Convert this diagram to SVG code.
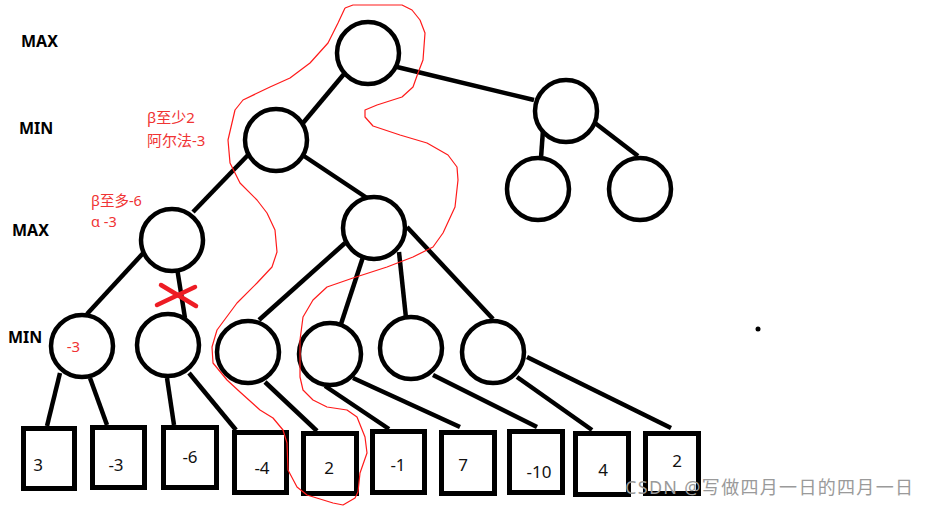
<svg xmlns="http://www.w3.org/2000/svg" width="928" height="508" viewBox="0 0 928 508">
<style>
.e{stroke:#000;stroke-width:4.5;fill:none}
.n{stroke:#000;stroke-width:4.5;fill:#fff}
.b{stroke:#000;stroke-width:5;fill:#fff}
.v{font-family:"Noto Sans","Liberation Sans",sans-serif;font-size:17px;fill:#111;text-anchor:middle}
.lv{font-family:"Noto Sans","Liberation Sans",sans-serif;font-size:16px;font-weight:bold;fill:#000}
.r{font-family:"Noto Sans","Noto Sans CJK SC",sans-serif;font-size:15px;fill:#f03434}
.rs{font-family:"Noto Sans","Noto Sans CJK SC",sans-serif;font-size:14.5px;fill:#f03434}
</style>
<rect width="928" height="508" fill="#fff"/>
<g id="connectors">
<line class="e" x1="344" y1="74" x2="303" y2="123"/>
<line class="e" x1="397" y1="67" x2="534" y2="100"/>
<line class="e" x1="543" y1="130" x2="541" y2="158"/>
<line class="e" x1="595" y1="123" x2="638" y2="156"/>
<line class="e" x1="248" y1="155" x2="193" y2="212"/>
<line class="e" x1="304" y1="156" x2="367" y2="198"/>
<line class="e" x1="146" y1="250" x2="87" y2="314"/>
<line class="e" x1="177" y1="268" x2="185" y2="318"/>
<line class="e" x1="345" y1="243" x2="259" y2="320"/>
<line class="e" x1="363" y1="257" x2="341" y2="324"/>
<line class="e" x1="399" y1="252" x2="406" y2="318"/>
<line class="e" x1="407" y1="227" x2="493" y2="319"/>
<line class="e" x1="60" y1="373" x2="47" y2="426"/>
<line class="e" x1="90" y1="378" x2="107" y2="425"/>
<line class="e" x1="167" y1="378" x2="174" y2="425"/>
<line class="e" x1="189" y1="373" x2="236" y2="430"/>
<line class="e" x1="265" y1="382" x2="317" y2="431"/>
<line class="e" x1="325" y1="386" x2="389" y2="429"/>
<line class="e" x1="353" y1="378" x2="460" y2="427"/>
<line class="e" x1="433" y1="375" x2="537" y2="427"/>
<line class="e" x1="517" y1="377" x2="592" y2="430"/>
<line class="e" x1="527" y1="357" x2="671" y2="428"/>
</g>
<g id="root"><circle class="n" cx="368" cy="53" r="31"/></g>
<g id="min-l"><circle class="n" cx="276" cy="140" r="31"/></g>
<g id="min-r"><circle class="n" cx="566" cy="111" r="31"/></g>
<g id="rc1"><circle class="n" cx="538" cy="189" r="31"/></g>
<g id="rc2"><circle class="n" cx="640" cy="189" r="31"/></g>
<g id="max-l"><circle class="n" cx="172" cy="240" r="31"/></g>
<g id="max-r"><circle class="n" cx="374" cy="228" r="31"/></g>
<g id="m1"><circle class="n" cx="82" cy="346" r="31"/><text x="73.5" y="352" class="r" text-anchor="middle">-3</text></g>
<g id="m2"><circle class="n" cx="168" cy="345" r="31"/></g>
<g id="m3"><circle class="n" cx="248" cy="352" r="31"/></g>
<g id="m4"><circle class="n" cx="330" cy="354" r="31"/></g>
<g id="m5"><circle class="n" cx="411" cy="348" r="31"/></g>
<g id="m6"><circle class="n" cx="493" cy="352" r="31"/></g>
<g id="b1"><rect class="b" x="23.5" y="428.5" width="51" height="60"/><text class="v" x="38" y="471">3</text></g>
<g id="b2"><rect class="b" x="92.5" y="427.5" width="52" height="60"/><text class="v" x="116" y="471">-3</text></g>
<g id="b3"><rect class="b" x="163.5" y="427.5" width="53" height="60"/><text class="v" x="190" y="463">-6</text></g>
<g id="b4"><rect class="b" x="234.5" y="432.5" width="52" height="60"/><text class="v" x="262" y="474">-4</text></g>
<g id="b5"><rect class="b" x="303.5" y="433.5" width="53" height="60"/><text class="v" x="329" y="474">2</text></g>
<g id="b6"><rect class="b" x="372.5" y="431.5" width="52" height="61"/><text class="v" x="398" y="471">-1</text></g>
<g id="b7"><rect class="b" x="441.5" y="432.5" width="53" height="61"/><text class="v" x="463" y="471">7</text></g>
<g id="b8"><rect class="b" x="509.5" y="431.5" width="53" height="61"/><text class="v" x="539" y="478">-10</text></g>
<g id="b9"><rect class="b" x="575.5" y="433.5" width="53" height="61"/><text class="v" x="603" y="476">4</text></g>
<g id="b10"><rect class="b" x="645.5" y="433.5" width="53" height="60"/><text class="v" x="677" y="467">2</text></g>
<g id="levels">
<text class="lv" x="21" y="47">MAX</text>
<text class="lv" x="19" y="134">MIN</text>
<text class="lv" x="12" y="236">MAX</text>
<text class="lv" x="8" y="343">MIN</text>
</g>
<g id="notes">
<text class="r" x="147" y="123">β至少2</text>
<text class="r" x="147" y="146">阿尔法-3</text>
<text class="rs" x="91" y="206">β至多-6</text>
<text class="rs" x="91" y="227">α -3</text>
</g>
<g id="cut" stroke="#ed1c24" stroke-width="4.5" stroke-linecap="round">
<line x1="161" y1="285" x2="196" y2="306"/>
<line x1="157" y1="305" x2="195" y2="287"/>
</g>
<polyline id="path-loop" fill="none" stroke="#ff1a1a" stroke-width="1.2" stroke-linejoin="round" points="345,8 353,5 402,5 412,10 420,20 425,33 423,60 418,73 413,87 402,97 377,105 365,110 365,117 373,126 400,135 427,143 448,155 457,167 458,180 455,207 443,233 433,247 413,257 387,267 353,278 327,287 313,300 303,317 300,340 300,377 303,390 313,400 327,407 347,410 357,417 365,437 367,453 360,473 358,492 355,498 343,505 333,503 307,495 297,487 288,470 287,443 283,430 273,418 260,410 240,392 227,380 213,363 212,347 217,330 237,303 257,283 272,267 277,252 275,230 267,213 257,200 240,183 230,163 228,140 235,110 243,100 270,87 290,78 310,63 328,43 338,23 345,8"/>
<circle cx="758" cy="329" r="2.5" fill="#000"/>
<text x="625" y="494" font-family="'Noto Sans','Noto Sans CJK SC',sans-serif" font-size="18" fill="#9a9a9a" textLength="288">CSDN @写做四月一日的四月一日</text>
</svg>
